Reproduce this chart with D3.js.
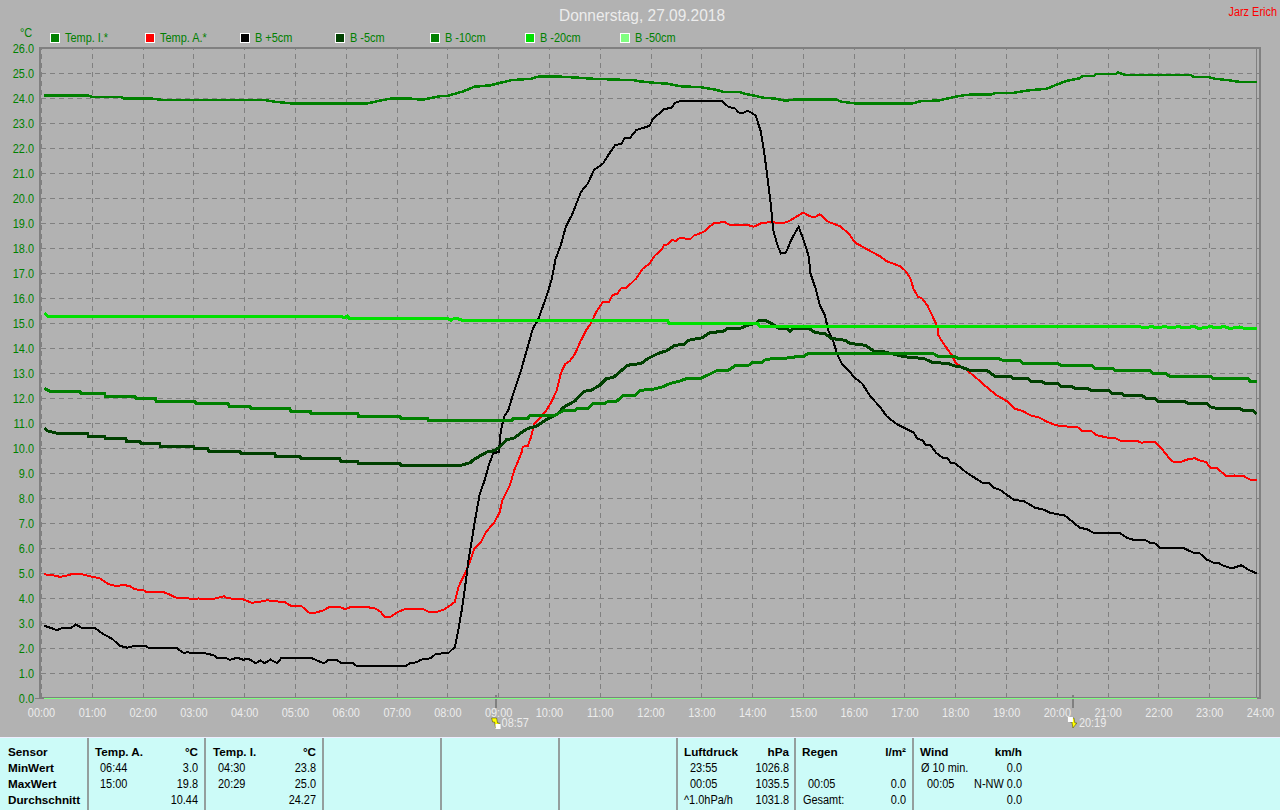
<!DOCTYPE html>
<html>
<head>
<meta charset="utf-8">
<script src="https://cdn.jsdelivr.net/npm/d3@7"></script>
<style>
html, body { margin: 0; padding: 0; background: #b2b2b2; overflow: hidden; }
svg { display: block; }
text { font-family: "Liberation Sans", sans-serif; font-size: 12px; }
.bold { font-weight: bold; font-size: 11.7px; }
</style>
</head>
<body>
<svg class="main" width="1280" height="810"></svg>
<script>
var title = "Donnerstag, 27.09.2018",
    author = "Jarz Erich",
    yTicks = d3.range(0, 27),
    xTicks = d3.range(0, 25);

var legendNames = ["Temp. I.*", "Temp. A.*", "B +5cm", "B -5cm", "B -10cm", "B -20cm", "B -50cm"],
    legendColors = ["#008000", "#ff0000", "#000000", "#004000", "#008000", "#00e000", "#80ff80"],
    lineWidths = [2.5, 2, 2, 3, 3, 3, 1];

// minutes after midnight, degrees
var tempIMin = [4,54,60,94,97,128,142,262,276,294,386,400,415,433,450,471,481,499,512,531,555,579,587,605,631,652,700,707,724,740,756,780,796,806,824,831,840,854,866,880,890,939,946,960,1030,1039,1060,1072,1083,1090,1102,1123,1128,1149,1165,1188,1198,1212,1226,1230,1244,1247,1270,1272,1280,1359,1361,1380,1387,1403,1415,1436],
    tempIVal = [24.13,24.13,24.07,24.07,24.01,24.01,23.95,23.95,23.87,23.81,23.81,23.91,24.01,24.01,23.95,24.09,24.11,24.29,24.47,24.53,24.73,24.79,24.87,24.89,24.84,24.79,24.73,24.69,24.63,24.59,24.49,24.45,24.36,24.27,24.27,24.19,24.13,24.03,24,23.91,23.96,23.96,23.87,23.81,23.81,23.89,23.92,24.01,24.09,24.13,24.17,24.17,24.23,24.23,24.32,24.39,24.53,24.71,24.8,24.89,24.91,24.99,24.99,25.04,24.95,24.93,24.87,24.85,24.79,24.73,24.67,24.67];

var tempAMin = [4,15,22,28,36,48,58,69,80,86,93,97,105,111,121,125,145,151,160,174,179,186,204,216,220,239,249,259,267,288,296,308,316,324,334,340,354,359,365,383,395,401,406,412,422,430,452,458,466,476,482,489,493,497,501,505,512,520,526,536,542,545,554,559,564,568,569,575,579,583,589,597,603,609,614,619,625,631,637,644,650,656,664,671,675,681,685,692,703,711,719,725,733,736,741,745,750,755,767,771,783,791,796,808,813,834,842,852,865,872,881,891,900,909,915,920,930,944,954,962,978,991,999,1015,1021,1027,1031,1036,1041,1047,1059,1060,1066,1076,1081,1094,1108,1119,1129,1142,1150,1160,1170,1180,1188,1199,1209,1225,1230,1241,1247,1261,1270,1275,1294,1300,1306,1316,1322,1333,1337,1347,1355,1363,1371,1376,1381,1389,1400,1410,1420,1428,1436],
    tempAVal = [4.97,4.92,4.87,4.89,4.97,4.97,4.89,4.81,4.57,4.52,4.52,4.55,4.49,4.37,4.33,4.25,4.25,4.17,4.03,4.01,3.97,4,3.99,4.09,4.01,3.96,3.83,3.87,3.93,3.85,3.69,3.69,3.44,3.43,3.53,3.65,3.65,3.57,3.65,3.67,3.6,3.47,3.25,3.25,3.47,3.57,3.57,3.47,3.45,3.56,3.69,3.87,4.45,4.73,5,5.33,6,6.27,6.67,7.07,7.47,7.93,8.53,9.13,9.53,9.87,10.07,10.11,10.47,11,11.2,11.53,11.87,12.3,13,13.37,13.51,13.8,14.27,14.73,15.03,15.47,15.87,15.87,16.13,16.2,16.4,16.44,16.8,17.2,17.4,17.71,17.96,18.13,18.17,18.33,18.31,18.43,18.37,18.51,18.67,18.91,19.03,19.05,18.95,18.95,18.87,19.03,19.05,19.01,19.05,19.24,19.44,19.28,19.27,19.37,19.07,18.89,18.6,18.23,17.93,17.69,17.49,17.29,17.11,16.8,16.36,16.07,16,15.73,14.87,14.53,14.2,13.73,13.4,13.13,12.73,12.4,12.13,11.87,11.6,11.49,11.31,11.23,11.07,10.93,10.89,10.84,10.69,10.69,10.53,10.43,10.4,10.31,10.31,10.23,10.27,10.27,10.07,9.6,9.48,9.47,9.57,9.61,9.49,9.47,9.24,9.23,8.89,8.92,8.91,8.76,8.73];

var plus5Min = [4,11,19,24,36,41,48,64,74,84,93,102,111,124,127,160,168,174,178,194,204,208,218,223,232,239,245,254,259,264,271,279,284,320,334,340,349,355,369,373,430,436,444,448,460,466,482,489,493,497,501,505,509,512,518,524,529,534,541,543,547,552,558,562,566,575,581,587,597,603,608,614,620,627,638,646,653,664,670,678,686,689,696,703,719,723,733,735,745,749,757,804,812,820,824,830,835,844,846,850,854,858,862,865,870,874,880,887,895,901,907,909,915,920,926,930,936,941,946,954,960,970,980,991,999,1011,1021,1031,1035,1042,1045,1051,1057,1065,1070,1075,1080,1092,1106,1112,1121,1125,1133,1140,1150,1160,1166,1174,1184,1192,1201,1209,1221,1227,1236,1243,1274,1282,1292,1305,1310,1316,1322,1349,1355,1361,1369,1377,1385,1391,1395,1403,1410,1418,1426,1434,1436],
    plus5Val = [2.91,2.83,2.73,2.81,2.83,2.96,2.83,2.81,2.57,2.39,2.11,2.03,2.11,2.09,2.03,2.03,1.83,1.85,1.81,1.81,1.73,1.63,1.63,1.55,1.63,1.55,1.59,1.41,1.53,1.41,1.56,1.41,1.63,1.61,1.41,1.55,1.55,1.41,1.41,1.29,1.29,1.41,1.45,1.55,1.61,1.77,1.84,2.07,2.73,3.53,4.47,5.53,6.33,7,8.13,8.73,9.33,9.8,9.87,10.67,11.27,11.53,12.2,12.6,13,14.07,14.8,15.13,16.07,16.73,17.6,18.13,18.87,19.33,20.27,20.6,21.13,21.4,21.73,22.13,22.2,22.4,22.43,22.73,22.91,23.2,23.47,23.56,23.64,23.83,23.91,23.91,23.67,23.6,23.44,23.43,23.51,23.33,23.13,22.71,21.93,20.87,19.8,18.73,18.13,17.8,17.84,18.4,18.87,18.33,17.67,17,16.4,15.73,15.33,14.73,14.27,13.73,13.4,13.13,12.87,12.6,12.07,11.67,11.29,10.97,10.8,10.63,10.4,10.31,10.13,10.13,9.84,9.63,9.63,9.43,9.4,9.07,8.76,8.63,8.6,8.43,8.35,8.17,7.93,7.91,7.8,7.63,7.56,7.43,7.37,7.33,7,6.83,6.77,6.63,6.63,6.44,6.33,6.33,6.23,6.2,6.03,6.03,5.93,5.84,5.8,5.56,5.43,5.43,5.33,5.24,5.24,5.33,5.16,5.03,5.01];

var minus5Min = [4,8,20,55,56,75,76,100,101,117,118,140,141,180,181,197,198,235,236,276,277,306,307,353,354,374,375,424,425,495,507,510,522,528,536,544,550,558,566,575,585,597,611,617,631,642,650,660,668,676,686,693,709,717,729,739,749,759,765,781,790,806,811,826,838,846,848,855,865,872,881,885,889,907,915,926,934,950,956,974,984,996,1019,1043,1053,1072,1078,1086,1097,1117,1127,1145,1148,1166,1169,1182,1186,1201,1205,1217,1221,1236,1241,1262,1265,1277,1279,1301,1305,1316,1320,1351,1355,1377,1381,1389,1416,1420,1431,1436],
    minus5Val = [10.8,10.7,10.6,10.6,10.5,10.5,10.4,10.4,10.3,10.3,10.2,10.2,10.1,10.1,10,10,9.9,9.9,9.8,9.8,9.7,9.7,9.6,9.6,9.5,9.5,9.4,9.4,9.33,9.32,9.43,9.53,9.77,9.88,9.91,10.13,10.36,10.4,10.6,10.8,10.89,11.16,11.4,11.64,11.91,12.29,12.33,12.53,12.8,12.84,13.13,13.33,13.4,13.6,13.8,13.91,14.13,14.16,14.33,14.43,14.63,14.69,14.8,14.81,14.97,15,15.13,15.13,14.96,14.8,14.8,14.69,14.8,14.8,14.63,14.6,14.4,14.33,14.2,14.13,13.89,13.87,13.67,13.6,13.44,13.4,13.31,13.27,13.13,13.13,12.89,12.89,12.8,12.8,12.69,12.68,12.6,12.6,12.49,12.49,12.41,12.4,12.32,12.32,12.2,12.2,12.12,12.12,12.01,12,11.88,11.88,11.8,11.8,11.67,11.6,11.6,11.52,11.52,11.4];

var minus10Min = [4,10,46,47,75,76,111,112,135,136,182,183,221,222,247,248,294,295,318,319,374,375,424,425,457,458,556,558,575,578,607,617,631,633,646,652,666,670,680,688,702,708,722,735,743,753,763,779,789,798,812,820,836,840,851,854,863,887,893,901,906,1054,1060,1080,1084,1131,1137,1156,1160,1201,1205,1241,1245,1266,1270,1310,1314,1329,1333,1381,1385,1426,1428,1436],
    minus10Val = [12.4,12.3,12.3,12.2,12.2,12.1,12.1,12,12,11.9,11.9,11.8,11.8,11.7,11.7,11.6,11.6,11.5,11.5,11.4,11.4,11.3,11.3,11.2,11.2,11.11,11.11,11.2,11.2,11.33,11.33,11.51,11.53,11.6,11.6,11.8,11.8,11.89,11.89,12.13,12.13,12.33,12.36,12.47,12.6,12.68,12.8,12.8,12.96,13.11,13.13,13.31,13.33,13.43,13.43,13.53,13.59,13.63,13.69,13.69,13.8,13.8,13.67,13.67,13.6,13.6,13.51,13.53,13.4,13.4,13.32,13.32,13.2,13.2,13.11,13.11,13,13,12.89,12.89,12.8,12.8,12.69,12.68];

var minus20Min = [4,8,355,358,362,364,366,480,484,488,492,498,740,742,847,849,1298,1302,1312,1318,1328,1334,1344,1350,1362,1368,1382,1388,1398,1404,1416,1422,1436],
    minus20Val = [15.4,15.3,15.3,15.22,15.3,15.2,15.2,15.2,15.13,15.2,15.2,15.12,15.12,15,15,14.88,14.88,14.82,14.88,14.82,14.88,14.82,14.88,14.82,14.88,14.8,14.88,14.82,14.88,14.8,14.86,14.8,14.78];

var minus50Min = [4,1436],
    minus50Val = [0,0];

var seriesMin = [tempIMin, tempAMin, plus5Min, minus5Min, minus10Min, minus20Min, minus50Min],
    seriesVal = [tempIVal, tempAVal, plus5Val, minus5Val, minus10Val, minus20Val, minus50Val];

// sunrise and sunset
var sunMin = [537, 1219],
    sunLabels = ["08:57", "20:19"];

// bottom table, columns left to right
var tableRows = ["MinWert", "MaxWert", "Durchschnitt"],
    panelHeads = [["Temp. A.", "°C"], ["Temp. I.", "°C"], ["Luftdruck", "hPa"], ["Regen", "l/m²"], ["Wind", "km/h"]],
    panelTimes = [["06:44", "15:00", ""], ["04:30", "20:29", ""], ["23:55", "00:05", "^1.0hPa/h"], ["", "00:05", "Gesamt:"], ["Ø 10 min.", "00:05", ""]],
    panelValues = [["3.0", "19.8", "10.44"], ["23.8", "25.0", "24.27"], ["1026.8", "1035.5", "1031.8"], ["", "0.0", "0.0"], ["0.0", "N-NW 0.0", "0.0"]],
    panelLeft = [95, 213, 684, 802, 920],
    panelRight = [198, 316, 789, 906, 1022],
    timeIndent = [[5, 5, 5], [5, 5, 5], [6, 6, 0], [6, 6, 1], [1, 7, 0]],
    separators = [88, 205, 323, 441, 559, 677, 795, 913];

var main = d3.select(".main");
var x = d3.scaleLinear().domain([0, 1440]).range([41, 1260]),
    y = d3.scaleLinear().domain([0, 26]).range([698, 48]);

// header
main.append("text").attr("x", 642).attr("y", 21)
    .attr("text-anchor", "middle").attr("fill", "#ececec")
    .style("font-size", "17px").text(title);
main.append("text").attr("x", 1277).attr("y", 16)
    .attr("text-anchor", "end").attr("fill", "#ff0000")
    .style("font-size", "12px").text(author);
main.append("text").attr("x", 20).attr("y", 37)
    .attr("fill", "#008000").text("°C");

// legend
legendNames.forEach(function(name, i) {
    var lx = 50 + i * 95;
    main.append("rect").attr("x", lx + 0.5).attr("y", 33.5)
        .attr("width", 9).attr("height", 9)
        .attr("fill", legendColors[i]).attr("stroke", "#fff");
    main.append("text").attr("x", lx + 15).attr("y", 42)
        .attr("fill", "#008000").text(name);
});

// grid and axes
var yAxis = d3.axisLeft(y).tickValues(yTicks)
    .tickFormat(function(d) { return d3.format(".1f")(d); })
    .tickSize(-(x.range()[1] - x.range()[0])).tickPadding(7);
var xAxis = d3.axisBottom(x).tickValues(xTicks.map(function(h) { return h * 60; }))
    .tickFormat(function(d) { return d3.format("02")(d / 60) + ":00"; })
    .tickSize(-(y.range()[0] - y.range()[1])).tickPadding(10);

var gy = main.append("g").attr("transform", "translate(41,0)").call(yAxis);
var gx = main.append("g").attr("transform", "translate(0,698)").call(xAxis);
gy.select(".domain").remove();
gx.select(".domain").remove();
[gy, gx].forEach(function(g) {
    g.selectAll("line").attr("stroke", "#808080")
        .attr("stroke-dasharray", "5,4").attr("shape-rendering", "crispEdges");
});
gy.selectAll("text").attr("fill", "#008000").attr("y", 1).style("font-size", "12px");
gx.selectAll("text").attr("fill", "#ececec").style("font-size", "12px");

// frame
var frame = main.append("g").attr("stroke", "#808080").attr("shape-rendering", "crispEdges");
frame.append("line").attr("x1", 40).attr("x2", 40).attr("y1", 47).attr("y2", 699).attr("stroke-width", 2);
frame.append("line").attr("x1", 40).attr("x2", 1260).attr("y1", 48).attr("y2", 48).attr("stroke-width", 2);
frame.append("line").attr("x1", 40).attr("x2", 1260).attr("y1", 698).attr("y2", 698).attr("stroke-width", 2);
frame.append("line").attr("x1", 1260).attr("x2", 1260).attr("y1", 47).attr("y2", 699).attr("stroke-width", 2);
frame.append("line").attr("x1", x(1436)).attr("x2", x(1436)).attr("y1", 47).attr("y2", 699);
frame.append("line").attr("x1", 35).attr("x2", 40).attr("y1", 698).attr("y2", 698);

// sun markers
sunMin.forEach(function(m, i) {
    var sx = x(m);
    main.append("line").attr("x1", sx).attr("x2", sx).attr("y1", 695).attr("y2", 708)
        .attr("stroke", "#808080").attr("stroke-width", 2).attr("shape-rendering", "crispEdges");
    var up = i == 0;
    main.append("path")
        .attr("d", "M" + (sx - 4) + "," + 718 + "h5l1,5h2l-4,5l-1,-6h-2z")
        .attr("fill", "#ffff00").attr("stroke", "#404000").attr("stroke-width", 0.5);
    main.append("rect").attr("x", up ? sx : sx - 5).attr("y", up ? 724 : 717)
        .attr("width", 5).attr("height", 5).attr("fill", "#fff");
    main.append("text").attr("x", sx + 6).attr("y", 727)
        .attr("fill", "#ececec").text(sunLabels[i]);
});

// series
var line = d3.line()
    .x(function(d) { return x(d[0]); })
    .y(function(d) { return y(d[1]); });

var lines = main.append("g").attr("transform", "translate(0,0.5)");
seriesMin.forEach(function(mins, i) {
    lines.append("path")
        .attr("d", line(d3.zip(mins, seriesVal[i])))
        .attr("fill", "none")
        .attr("stroke", legendColors[i])
        .attr("stroke-width", lineWidths[i])
        .attr("shape-rendering", "crispEdges");
});

// table
var panel = main.append("g");
panel.append("rect").attr("x", 0).attr("y", 737).attr("width", 1280).attr("height", 73).attr("fill", "#ccfbf8");
panel.append("line").attr("x1", 0).attr("x2", 1280).attr("y1", 737.5).attr("y2", 737.5).attr("stroke", "#eef");
separators.forEach(function(sx) {
    panel.append("line").attr("x1", sx).attr("x2", sx).attr("y1", 738).attr("y2", 810)
        .attr("stroke", "#808080").attr("stroke-width", 1.5);
});

var rowY = [756, 772, 788, 804];
panel.append("text").attr("class", "bold").attr("x", 8).attr("y", rowY[0]).attr("fill", "#000").text("Sensor");
tableRows.forEach(function(r, i) {
    panel.append("text").attr("class", "bold").attr("x", 8).attr("y", rowY[i + 1]).attr("fill", "#000").text(r);
});
panelHeads.forEach(function(h, c) {
    panel.append("text").attr("class", "bold").attr("x", panelLeft[c]).attr("y", rowY[0]).attr("fill", "#000").text(h[0]);
    panel.append("text").attr("class", "bold").attr("x", panelRight[c]).attr("y", rowY[0])
        .attr("text-anchor", "end").attr("fill", "#000").text(h[1]);
    tableRows.forEach(function(r, i) {
        panel.append("text").attr("x", panelLeft[c] + timeIndent[c][i]).attr("y", rowY[i + 1])
            .attr("fill", "#000").text(panelTimes[c][i]);
        panel.append("text").attr("x", panelRight[c]).attr("y", rowY[i + 1])
            .attr("text-anchor", "end").attr("fill", "#000").text(panelValues[c][i]);
    });
});

// the original font is narrower than anything installed, squeeze the plain text
main.selectAll("text").each(function() {
    var t = d3.select(this), len = this.getComputedTextLength();
    if (!len || t.classed("bold")) return;
    t.attr("textLength", len * 0.91).attr("lengthAdjust", "spacingAndGlyphs");
});
</script>
</body>
</html>
